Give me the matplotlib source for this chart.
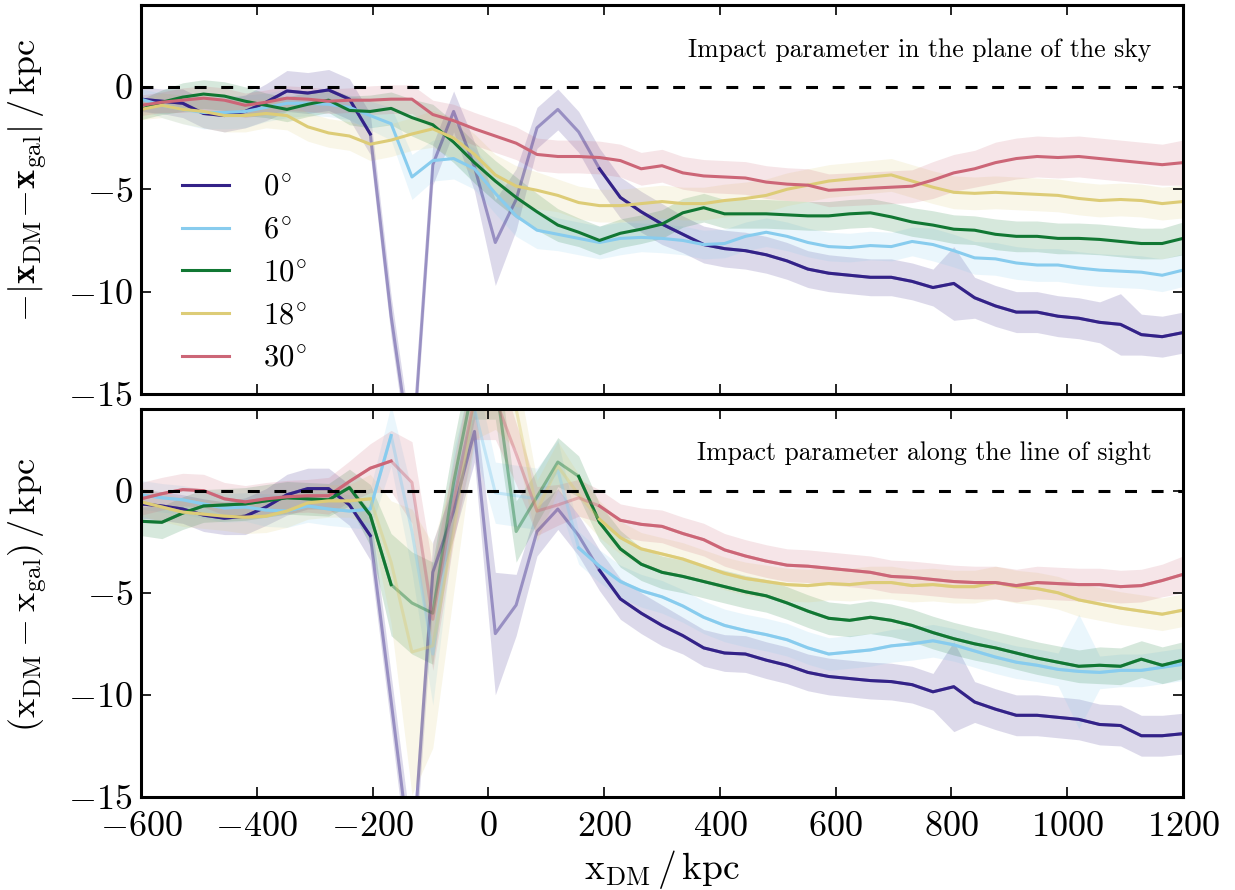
import matplotlib.pyplot as plt
import numpy as np

plt.rcParams['font.family'] = 'serif'
plt.rcParams['font.serif'] = ['cmr10']
plt.rcParams['mathtext.fontset'] = 'cm'
plt.rcParams['axes.formatter.use_mathtext'] = True

# DM position grid (kpc)
X = np.arange(-600, 1201, 36)

LABELS = [r'$0^{\!\circ}$', r'$6^{\!\circ}$', r'$10^{\!\circ}$', r'$18^{\!\circ}$', r'$30^{\!\circ}$']
COLORS = ['#332288', '#88CCEE', '#117733', '#DDCC77', '#CC6677']

# top panel: impact parameter in the plane of the sky
TOP_0 = [-0.6, -0.7, -0.8, -1.3, -1.4, -1.2, -0.75, -0.2, -0.3, -0.15, -0.6, -2.3,
         -11.2, -18.3, -3.8, -1.2, -3.9, -7.6, -5.5, -2.0, -1.1, -2.2,
         -4.0, -5.4, -6.1, -6.7, -7.2, -7.7, -7.9, -8.0, -8.2, -8.5,
         -8.9, -9.1, -9.2, -9.3, -9.3, -9.5, -9.8, -9.6, -10.3, -10.7,
         -11.0, -11.0, -11.2, -11.3, -11.5, -11.6, -12.1, -12.2, -12.0]
TOP_6 = [-0.6, -0.9, -1.1, -1.25, -1.25, -1.2, -1.0, -0.8, -0.8, -0.85, -1.0, -1.4,
         -1.8, -4.4, -3.6, -3.5, -4.0, -5.2, -6.3, -7.0, -7.2, -7.4,
         -7.6, -7.4, -7.35, -7.4, -7.5, -7.7, -7.65, -7.3, -7.1, -7.3,
         -7.6, -7.8, -7.85, -7.75, -7.8, -7.55, -7.7, -8.0, -8.35, -8.4,
         -8.6, -8.7, -8.7, -8.85, -8.95, -9.0, -9.05, -9.2, -8.95]
TOP_10 = [-1.1, -0.75, -0.5, -0.35, -0.45, -0.7, -0.9, -1.1, -0.85, -0.65, -1.15, -1.2,
          -1.05, -1.5, -1.85, -2.7, -3.7, -4.6, -5.4, -6.1, -6.75, -7.1,
          -7.5, -7.15, -6.95, -6.7, -6.15, -5.9, -6.2, -6.2, -6.2, -6.25,
          -6.3, -6.3, -6.2, -6.15, -6.35, -6.6, -6.75, -6.95, -7.0, -7.2,
          -7.3, -7.3, -7.4, -7.4, -7.45, -7.55, -7.65, -7.65, -7.4]
TOP_18 = [-1.1, -0.9, -1.1, -1.2, -1.4, -1.4, -1.3, -1.4, -1.95, -2.25, -2.4, -2.8,
          -2.6, -2.3, -2.05, -2.5, -3.3, -4.3, -4.85, -5.05, -5.3, -5.65,
          -5.8, -5.8, -5.7, -5.6, -5.7, -5.7, -5.55, -5.45, -5.3, -5.0,
          -4.8, -4.6, -4.5, -4.4, -4.3, -4.6, -4.9, -5.15, -5.2, -5.15,
          -5.2, -5.25, -5.3, -5.45, -5.55, -5.5, -5.55, -5.7, -5.6]
TOP_30 = [-0.9, -0.75, -0.65, -0.55, -0.65, -0.9, -0.75, -0.55, -0.6, -0.7, -0.65, -0.65,
          -0.6, -0.6, -1.35, -1.65, -2.05, -2.4, -2.75, -3.3, -3.4, -3.4,
          -3.45, -3.6, -4.0, -3.85, -4.2, -4.35, -4.4, -4.45, -4.65, -4.75,
          -4.8, -5.05, -5.0, -4.95, -4.9, -4.85, -4.55, -4.2, -4.0, -3.7,
          -3.5, -3.4, -3.45, -3.4, -3.5, -3.6, -3.7, -3.8, -3.7]

ERR_TOP_0 = [0.6, 0.6, 0.7, 0.7, 0.8, 0.8, 0.9, 1.0, 1.0, 1.0, 1.0, 1.0,
             1.0, 1.0, 1.0, 1.0, 1.2, 2.1, 1.5, 1.0, 1.0, 1.0,
             1.0, 1.0, 1.0, 1.0, 0.9, 0.9, 0.9, 0.9, 0.9, 0.9,
             0.9, 0.9, 0.9, 0.9, 0.9, 0.9, 0.9, 1.8, 1.0, 1.0,
             1.0, 1.0, 1.0, 1.0, 1.0, 1.5, 1.0, 1.0, 1.0]
ERR_TOP_6 = [0.5, 0.6, 0.7, 0.8, 0.8, 0.8, 0.7, 0.7, 0.6, 0.6, 0.6, 0.7,
             0.8, 1.1, 1.0, 1.0, 1.0, 1.0, 1.0, 0.9, 0.8, 0.8,
             0.8, 0.8, 0.7, 0.7, 0.7, 0.7, 0.7, 0.7, 0.7, 0.7,
             0.7, 0.7, 0.7, 0.7, 0.7, 0.7, 0.8, 0.8, 0.8, 0.8,
             0.8, 0.8, 0.8, 0.8, 0.8, 0.8, 0.8, 0.8, 0.8]
ERR_TOP_10 = [0.5, 0.6, 0.7, 0.7, 0.7, 0.7, 0.6, 0.6, 0.6, 0.6, 0.7, 0.8,
              0.8, 0.9, 1.0, 1.0, 1.0, 1.0, 1.0, 0.9, 0.8, 0.7,
              0.7, 0.7, 0.7, 0.7, 0.7, 0.7, 0.7, 0.7, 0.7, 0.7,
              0.7, 0.7, 0.7, 0.7, 0.7, 0.7, 0.7, 0.7, 0.7, 0.75,
              0.75, 0.75, 0.75, 0.75, 0.75, 0.75, 0.75, 0.75, 0.8]
ERR_TOP_18 = [0.5, 0.6, 0.7, 0.8, 0.8, 0.8, 0.7, 0.7, 0.7, 0.7, 0.7, 0.8,
              0.8, 0.8, 0.9, 1.0, 1.0, 1.0, 1.0, 0.9, 0.8, 0.8,
              0.8, 0.8, 0.8, 0.8, 0.8, 0.8, 0.8, 0.8, 0.8, 0.8,
              0.8, 0.8, 0.8, 0.8, 0.8, 0.8, 0.8, 0.8, 0.8, 0.8,
              0.8, 0.8, 0.8, 0.8, 0.8, 0.8, 0.8, 0.8, 0.8]
ERR_TOP_30 = [0.5, 0.5, 0.6, 0.6, 0.6, 0.6, 0.6, 0.6, 0.6, 0.6, 0.6, 0.7,
              0.7, 0.7, 0.7, 0.8, 0.8, 0.8, 0.8, 0.8, 0.8, 0.8,
              0.8, 0.8, 0.8, 0.8, 0.8, 0.8, 0.8, 0.8, 0.8, 0.8,
              0.8, 0.8, 0.8, 0.8, 0.8, 0.8, 0.9, 0.9, 0.9, 1.0,
              1.0, 1.0, 1.0, 1.0, 1.0, 1.0, 1.0, 1.0, 1.1]

# bottom panel: impact parameter along the line of sight
BOT_0 = [-0.65, -0.75, -0.9, -1.2, -1.35, -1.25, -0.8, -0.2, 0.1, 0.1, -0.7, -2.2,
         -10.3, -18.5, -4.0, -1.0, 2.9, -7.0, -5.6, -2.0, -0.9, -2.2,
         -3.9, -5.3, -6.0, -6.6, -7.1, -7.7, -7.95, -8.0, -8.3, -8.55,
         -8.9, -9.1, -9.2, -9.3, -9.35, -9.5, -9.85, -9.6, -10.35, -10.7,
         -11.0, -11.0, -11.1, -11.2, -11.45, -11.5, -12.0, -12.0, -11.9]
BOT_6 = [-0.2, -0.35, -0.45, -0.65, -0.85, -0.8, -0.95, -1.0, -0.75, -0.9, -1.0, -0.9,
         2.7, -2.0, -8.0, 0.0, 4.0, -0.1, -0.25, -0.4, 1.0, -2.8,
         -3.7, -4.45, -4.9, -5.2, -5.65, -6.2, -6.6, -6.85, -7.05, -7.3,
         -7.7, -8.0, -7.9, -7.8, -7.6, -7.5, -7.35, -7.55, -7.85, -8.15,
         -8.4, -8.55, -8.75, -8.85, -8.9, -8.8, -8.8, -8.65, -8.5]
BOT_10 = [-1.5, -1.55, -1.1, -0.75, -0.7, -0.65, -0.5, -0.35, -0.4, -0.45, 0.15, -1.2,
          -4.6, -5.5, -6.0, 0.4, 5.5, 5.5, -2.0, -0.3, 1.4, 0.7,
          -1.55, -2.85, -3.6, -4.0, -4.2, -4.45, -4.7, -4.95, -5.15, -5.5,
          -5.9, -6.25, -6.35, -6.2, -6.35, -6.6, -6.95, -7.25, -7.5, -7.7,
          -7.95, -8.2, -8.4, -8.6, -8.55, -8.6, -8.25, -8.55, -8.3]
BOT_18 = [-0.55, -0.8, -1.05, -1.15, -1.25, -1.3, -1.25, -1.0, -0.6, -0.5, -0.5, -0.4,
          -3.5, -7.9, -7.6, -2.0, 4.5, 5.0, 4.0, -1.0, 1.2, -0.2,
          -1.4, -2.3, -2.85, -3.1, -3.35, -3.7, -4.05, -4.3, -4.45, -4.6,
          -4.65, -4.55, -4.6, -4.5, -4.5, -4.65, -4.6, -4.7, -4.7, -4.5,
          -4.7, -4.8, -5.0, -5.35, -5.55, -5.75, -5.9, -6.05, -5.85]
BOT_30 = [-0.4, -0.15, 0.05, 0.0, -0.4, -0.55, -0.4, -0.3, -0.25, -0.25, 0.45, 1.1,
          1.45, 0.4, -6.3, -0.5, 4.5, 4.5, 1.8, -1.0, -0.7, -0.35,
          -0.75, -1.45, -1.65, -1.75, -2.1, -2.4, -2.9, -3.2, -3.45, -3.65,
          -3.7, -3.8, -3.9, -4.0, -4.2, -4.25, -4.35, -4.45, -4.5, -4.5,
          -4.65, -4.5, -4.55, -4.6, -4.6, -4.7, -4.65, -4.4, -4.1]

ERR_BOT_0 = [0.7, 0.7, 0.7, 0.8, 0.8, 0.9, 0.9, 1.0, 1.0, 1.0, 1.0, 1.2,
             1.3, 1.5, 1.5, 1.3, 1.5, 3.0, 1.5, 1.2, 1.0, 1.0,
             1.0, 1.0, 1.0, 1.0, 0.9, 0.9, 0.9, 0.9, 0.9, 0.9,
             0.9, 0.9, 0.9, 0.9, 0.9, 0.9, 0.9, 2.2, 1.0, 1.0,
             1.0, 1.0, 1.0, 1.0, 1.0, 1.0, 1.0, 1.0, 1.0]
ERR_BOT_6 = [0.7, 0.7, 0.7, 0.7, 0.7, 0.7, 0.8, 0.8, 0.8, 0.8, 0.8, 1.0,
             1.5, 2.0, 2.5, 2.0, 2.0, 1.5, 1.5, 1.5, 1.5, 0.8,
             0.8, 0.8, 0.8, 0.8, 0.8, 0.8, 0.8, 0.8, 0.8, 0.8,
             0.8, 0.8, 0.8, 0.8, 0.8, 0.8, 0.8, 0.8, 0.8, 0.8,
             0.8, 0.8, 0.8, 2.8, 0.8, 0.8, 0.8, 0.8, 0.8]
ERR_BOT_10 = [0.7, 0.8, 0.8, 0.8, 0.8, 0.8, 0.8, 0.8, 0.8, 0.8, 0.9, 1.5,
              2.5, 2.5, 2.5, 2.0, 2.0, 2.0, 1.5, 1.3, 1.2, 1.0,
              0.9, 0.9, 0.8, 0.8, 0.8, 0.8, 0.8, 0.8, 0.8, 0.8,
              0.8, 0.8, 0.8, 0.8, 0.8, 0.8, 0.8, 0.8, 0.8, 0.8,
              0.8, 0.8, 0.8, 0.8, 0.9, 0.9, 0.9, 0.9, 0.9]
ERR_BOT_18 = [0.7, 0.7, 0.7, 0.7, 0.7, 0.8, 0.8, 0.8, 0.8, 0.8, 0.8, 1.2,
              3.0, 7.0, 5.0, 3.0, 2.0, 2.0, 2.0, 1.5, 1.2, 1.0,
              0.9, 0.8, 0.8, 0.8, 0.8, 0.8, 0.8, 0.8, 0.8, 0.8,
              0.8, 0.8, 0.8, 0.8, 0.8, 0.8, 0.8, 0.8, 0.8, 0.8,
              0.8, 0.8, 0.8, 0.8, 0.8, 0.8, 0.8, 0.8, 0.8]
ERR_BOT_30 = [0.8, 0.8, 0.8, 0.8, 0.8, 0.8, 0.8, 0.8, 0.8, 0.9, 1.0, 1.2,
              1.5, 2.0, 2.5, 2.0, 2.0, 2.0, 1.5, 1.2, 1.0, 0.9,
              0.8, 0.8, 0.8, 0.8, 0.8, 0.8, 0.8, 0.8, 0.8, 0.8,
              0.8, 0.8, 0.8, 0.8, 0.8, 0.8, 0.8, 0.8, 0.8, 0.8,
              0.8, 0.8, 0.8, 0.8, 0.8, 0.8, 0.8, 0.8, 0.9]

# x-range (lo, hi) over which each curve is drawn faded
TOP_FADE = [(-204, 192), None, None, None, None]
BOT_FADE = [(-204, 192), (-168, 156), (-168, 156), (-204, 192), (-168, 192)]

LW = 2.2


def draw_panel(ax, means, errs, fades):
    for m, e, f, c, lab in zip(means, errs, fades, COLORS, LABELS):
        m = np.array(m)
        e = np.array(e)
        ax.fill_between(X, m - e, m + e, color=c, alpha=0.17, lw=0)
        if f is None:
            ax.plot(X, m, color=c, lw=LW, label=lab)
        else:
            lo, hi = f
            ax.plot(X, m, color=c, lw=LW, alpha=0.4)
            left = X <= lo
            right = X >= hi
            ax.plot(X[left], m[left], color=c, lw=LW, label=lab)
            ax.plot(X[right], m[right], color=c, lw=LW)
    ax.axhline(0, color='k', lw=2.2, ls=(0, (3.9, 4.8)), zorder=10)
    ax.set_xlim(-600, 1200)
    ax.set_ylim(-15, 4)
    ax.set_yticks([-15, -10, -5, 0])
    ax.set_xticks(np.arange(-600, 1201, 200))
    ax.tick_params(direction='in', top=True, right=True, length=7, width=1.2,
                   labelsize=26, pad=6)
    ax.tick_params(axis='x', pad=10)
    for s in ax.spines.values():
        s.set_linewidth(2.2)


fig = plt.figure(figsize=(12.35, 8.9), dpi=100)
ax1 = fig.add_axes([0.1142, 0.5573, 0.8437, 0.4371])
ax2 = fig.add_axes([0.1142, 0.1045, 0.8437, 0.4360])

draw_panel(ax1, [TOP_0, TOP_6, TOP_10, TOP_18, TOP_30],
           [ERR_TOP_0, ERR_TOP_6, ERR_TOP_10, ERR_TOP_18, ERR_TOP_30], TOP_FADE)
draw_panel(ax2, [BOT_0, BOT_6, BOT_10, BOT_18, BOT_30],
           [ERR_BOT_0, ERR_BOT_6, ERR_BOT_10, ERR_BOT_18, ERR_BOT_30], BOT_FADE)

ax1.tick_params(labelbottom=False)

ax1.text(0.970, 0.885, 'Impact parameter in the plane of the sky',
         transform=ax1.transAxes, ha='right', va='center', fontsize=18.5)
ax2.text(0.970, 0.887, 'Impact parameter along the line of sight',
         transform=ax2.transAxes, ha='right', va='center', fontsize=18.5)

ax1.set_ylabel(r'$-|\mathbf{x}_{\rm DM}\!-\!\mathbf{x}_{\rm gal}|\,/\,{\rm kpc}$', fontsize=26)
ax2.set_ylabel(r'$(\mathrm{x}_{\rm DM}-\mathrm{x}_{\rm gal})\,/\,{\rm kpc}$', fontsize=26)
ax2.set_xlabel(r'$\mathrm{x}_{\rm DM}\,/\,{\rm kpc}$', fontsize=27, labelpad=4)
ax1.yaxis.set_label_coords(-0.088, 0.55)
ax2.yaxis.set_label_coords(-0.088, 0.52)

ax1.legend(loc='lower left', bbox_to_anchor=(0.039, 0.055), frameon=False,
           fontsize=22, handlelength=1.55, handletextpad=1.1, labelspacing=0.5,
           borderpad=0, borderaxespad=0)

fig.savefig('out.png', dpi=100)
